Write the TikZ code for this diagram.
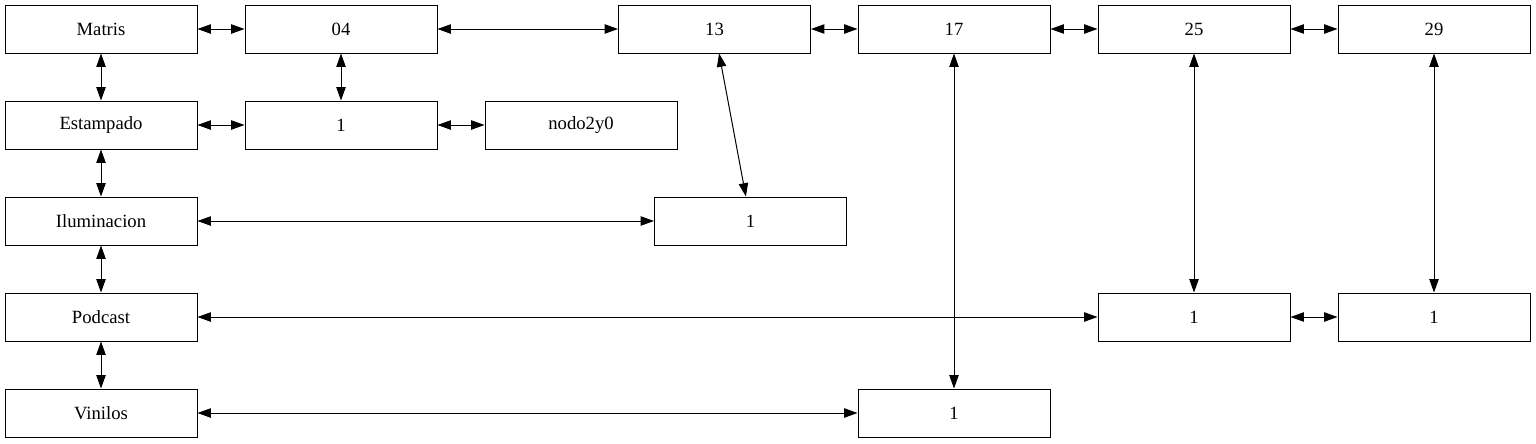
\documentclass[tikz,border=0pt]{standalone}
\usepackage{fontspec}
\setmainfont{Liberation Serif}
\usetikzlibrary{arrows.meta}
\begin{document}
\begin{tikzpicture}[x=0.75pt,y=-0.75pt,line width=0.75pt,
  >={Triangle[length=10pt,width=7pt]},
  box/.style={draw,minimum width=144pt,minimum height=36pt,inner sep=0pt,
    font=\fontsize{14pt}{16pt}\selectfont},
  link/.style={<->}]
  \useasboundingbox (0,0) rectangle (1536,443);
  % Header row
  \node[box] (matris) at (101,29) {Matris};
  \node[box] (c04) at (341,29) {04};
  \node[box] (c13) at (714.5,29) {13};
  \node[box] (c17) at (954,29) {17};
  \node[box] (c25) at (1194,29) {25};
  \node[box] (c29) at (1434,29) {29};
  % Left column
  \node[box] (estampado) at (101,125) {Estampado};
  \node[box] (iluminacion) at (101,221) {Iluminacion};
  \node[box] (podcast) at (101,317) {Podcast};
  \node[box] (vinilos) at (101,413) {Vinilos};
  % Inner cells
  \node[box] (est04) at (341,125) {1};
  \node[box] (nodo) at (581,125) {nodo2y0};
  \node[box] (ilu13) at (750.5,221) {1};
  \node[box] (pod25) at (1194,317) {1};
  \node[box] (pod29) at (1434,317) {1};
  \node[box] (vin17) at (954,413) {1};
  % Links along the rows
  \draw[link] (matris) -- (c04);
  \draw[link] (c04) -- (c13);
  \draw[link] (c13) -- (c17);
  \draw[link] (c17) -- (c25);
  \draw[link] (c25) -- (c29);
  \draw[link] (estampado) -- (est04);
  \draw[link] (est04) -- (nodo);
  \draw[link] (iluminacion) -- (ilu13);
  \draw[link] (podcast) -- (pod25);
  \draw[link] (pod25) -- (pod29);
  \draw[link] (vinilos) -- (vin17);
  % Links down the columns
  \draw[link] (matris) -- (estampado);
  \draw[link] (estampado) -- (iluminacion);
  \draw[link] (iluminacion) -- (podcast);
  \draw[link] (podcast) -- (vinilos);
  \draw[link] (c04) -- (est04);
  \draw[link] (c13) -- (ilu13);
  \draw[link] (c17) -- (vin17);
  \draw[link] (c25) -- (pod25);
  \draw[link] (c29) -- (pod29);
\end{tikzpicture}
\end{document}
